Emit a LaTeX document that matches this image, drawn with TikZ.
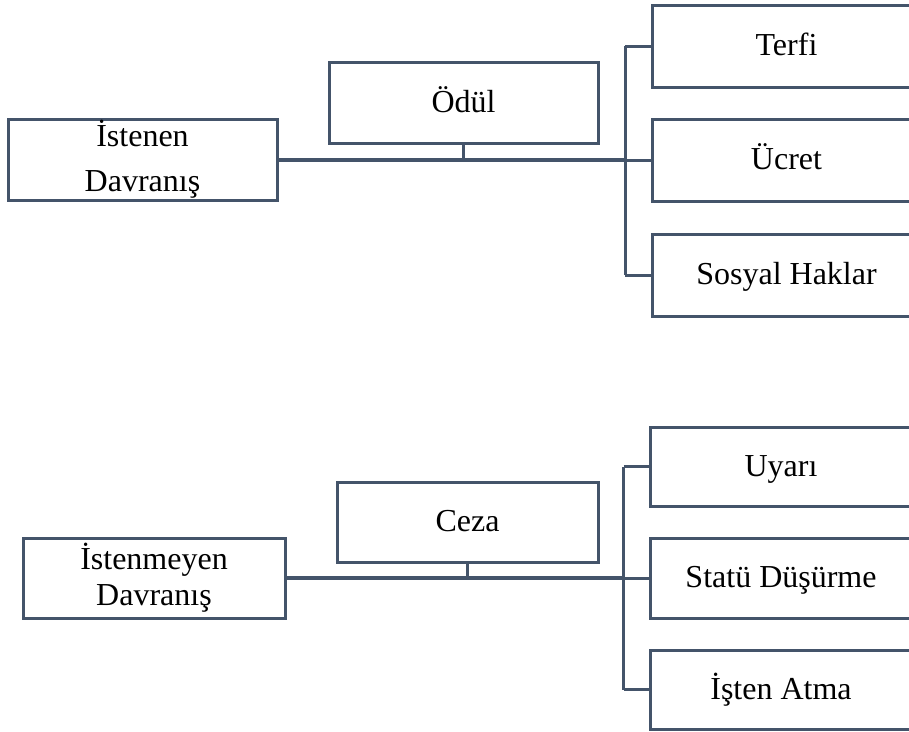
\documentclass[tikz,border=0pt]{standalone}
\usepackage{fontspec}
\setmainfont{Liberation Serif}
\definecolor{slate}{HTML}{44546A}
\begin{document}
\begin{tikzpicture}[x=1pt,y=-1pt,
  box/.style={draw=slate,line width=3pt,fill=white,inner sep=0pt,outer sep=0pt,
    font=\fontsize{32}{40}\selectfont,text=black},
  onebox/.style={box,text height=24pt,text depth=5pt},
  twobox/.style={box,align=center},
  trunk/.style={draw=slate,line width=3.8pt},
  branch/.style={draw=slate,line width=3pt}]
\useasboundingbox (0,0) rectangle (909,731);
\clip (0,0) rectangle (909,731);

% --- reward group ---
\node[twobox,minimum width=269pt,minimum height=81pt,
  font=\fontsize{32}{45}\selectfont] (ist) at (142.5,159.5) {İstenen\\Davranış};
\node[onebox,minimum width=269pt,minimum height=81pt] (odul) at (463.5,102.5) {Ödül};
\node[onebox,minimum width=269pt,minimum height=82pt] (terfi) at (786.5,46) {Terfi};
\node[onebox,minimum width=269pt,minimum height=82pt] (ucret) at (786.5,160) {Ücret};
\node[onebox,minimum width=269pt,minimum height=82pt] (sosyal) at (786.5,275) {Sosyal Haklar};
\coordinate (busA) at (625,160);

\draw[trunk] (ist.east |- busA) -- (busA);
\draw[branch] (odul.south) -- (odul.south |- busA);
\draw[branch] (busA |- terfi.west) -- (busA |- sosyal.west);
\draw[branch] (busA |- terfi.west) -- (terfi.west);
\draw[branch] (busA |- ucret.west) -- (ucret.west);
\draw[branch] (busA |- sosyal.west) -- (sosyal.west);

% --- punishment group ---
\node[twobox,minimum width=262pt,minimum height=80pt,
  font=\fontsize{32}{36}\selectfont] (istm) at (154,578) {İstenmeyen\\Davranış};
\node[onebox,minimum width=261pt,minimum height=80pt] (ceza) at (467.5,522) {Ceza};
\node[onebox,minimum width=262pt,minimum height=79pt] (uyari) at (781,466.5) {Uyarı};
\node[onebox,minimum width=262pt,minimum height=80pt] (statu) at (781,578) {Statü Düşürme};
\node[onebox,minimum width=262pt,minimum height=79pt] (atma) at (781,689.5) {İşten Atma};
\coordinate (busB) at (623.5,578);

\draw[trunk] (istm.east |- busB) -- (busB);
\draw[branch] (ceza.south) -- (ceza.south |- busB);
\draw[branch] (busB |- uyari.west) -- (busB |- atma.west);
\draw[branch] (busB |- uyari.west) -- (uyari.west);
\draw[branch] (busB |- statu.west) -- (statu.west);
\draw[branch] (busB |- atma.west) -- (atma.west);
\end{tikzpicture}
\end{document}
